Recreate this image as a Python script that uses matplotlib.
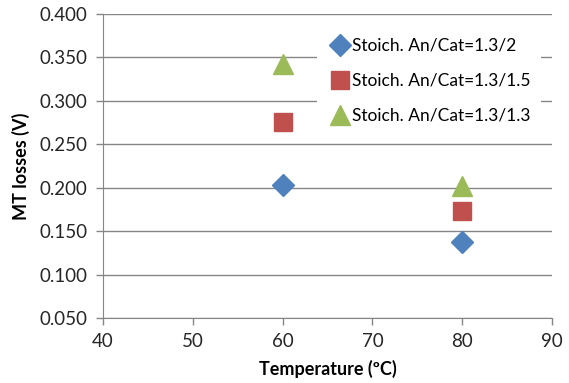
import matplotlib.pyplot as plt

plt.rcParams['font.family'] = ['Lato', 'DejaVu Sans']

# temperatures (ºC) and MT losses (V) for each stoichiometry
temperature = [60, 80]
losses_13_2 = [0.203, 0.137]
losses_13_15 = [0.276, 0.173]
losses_13_13 = [0.343, 0.202]

series = [
    ('Stoich. An/Cat=1.3/2', losses_13_2, 'D', '#4F81BD', 11),
    ('Stoich. An/Cat=1.3/1.5', losses_13_15, 's', '#C0504D', 13.5),
    ('Stoich. An/Cat=1.3/1.3', losses_13_13, '^', '#9BBB59', 14),
]

fig = plt.figure(figsize=(5.69, 3.83), dpi=100)
ax = fig.add_axes([103 / 569, 1 - 318 / 383, 449 / 569, 304 / 383])

for label, vals, marker, color, ms in series:
    ax.plot(temperature, vals, linestyle='none', marker=marker, color=color,
            markersize=ms, label=label, zorder=3)

ax.set_xlim(40, 90)
ax.set_ylim(0.05, 0.40)
ax.set_xticks(range(40, 91, 10))
ax.set_yticks([0.05 + 0.05 * i for i in range(8)])
ax.set_yticklabels([f'{0.05 + 0.05 * i:.3f}' for i in range(8)])

ax.grid(axis='y', color='#868686', linewidth=1)
ax.set_axisbelow(True)
for side in ['top', 'right']:
    ax.spines[side].set_visible(False)
for side in ['left', 'bottom']:
    ax.spines[side].set_color('#868686')
ax.tick_params(axis='both', colors='#868686', labelcolor='#262626',
               labelsize=13.5, length=5, width=1)
ax.tick_params(axis='x', pad=6)
ax.tick_params(axis='y', pad=6)

ax.set_xlabel('Temperature (ºC)', fontsize=13, fontweight='bold', labelpad=7)
ax.set_ylabel('MT losses (V)', fontsize=13, fontweight='bold', labelpad=7)

leg = ax.legend(loc='upper right', bbox_to_anchor=(0.995, 0.985), fontsize=12.5,
                frameon=True, fancybox=False, edgecolor='none',
                framealpha=1, handletextpad=0.0, handlelength=1.4,
                labelspacing=1.1, borderpad=0.6)
leg.set_zorder(5)

fig.savefig('out.png', dpi=100)
